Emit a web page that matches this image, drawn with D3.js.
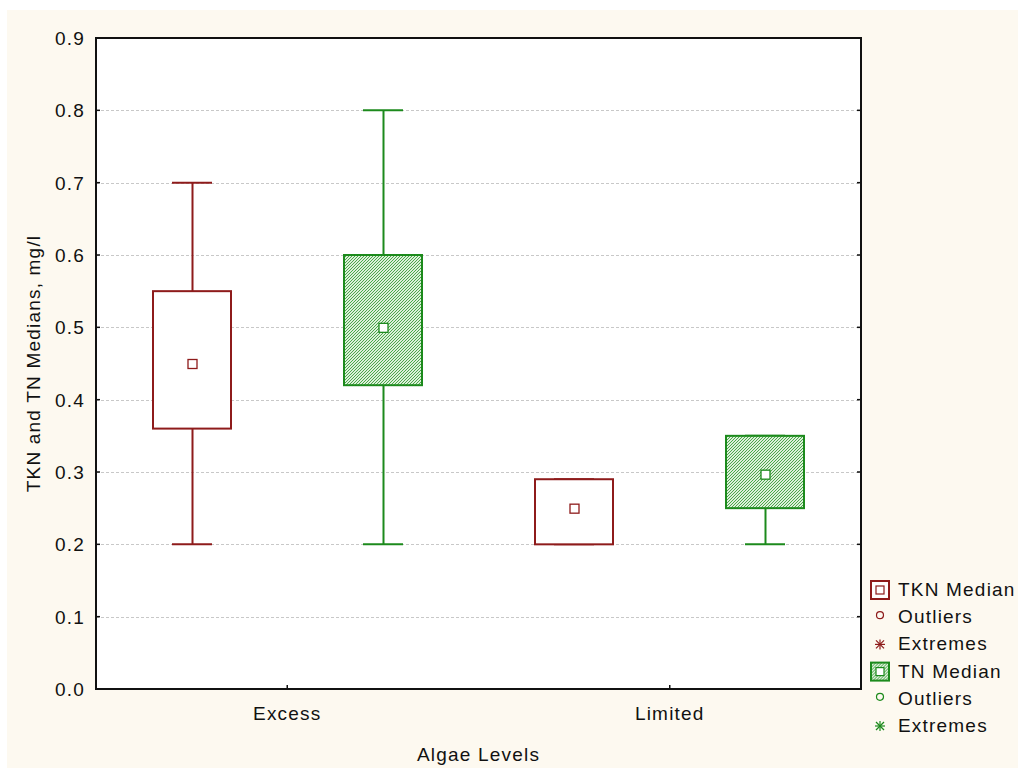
<!DOCTYPE html>
<html>
<head>
<meta charset="utf-8">
<script src="https://cdn.jsdelivr.net/npm/d3@7"></script>
<style>
  body { margin: 0; background: #fff; }
  text { font-family: "Liberation Sans", Arial, sans-serif; fill: #111; letter-spacing: 1.2px; }
</style>
</head>
<body>
<div id="chart"></div>
<script>
// categories and box stats
var groups = ["Excess", "Limited"];
var seriesNames = ["TKN", "TN"];
var tknMin = [0.2, 0.2], tknQ1 = [0.36, 0.2], tknMed = [0.45, 0.25], tknQ3 = [0.55, 0.29], tknMax = [0.7, 0.29];
var tnMin = [0.2, 0.2], tnQ1 = [0.42, 0.25], tnMed = [0.5, 0.297], tnQ3 = [0.6, 0.35], tnMax = [0.8, 0.35];
var yTicks = [0, 0.1, 0.2, 0.3, 0.4, 0.5, 0.6, 0.7, 0.8, 0.9];
var legendLabels = ["TKN Median", "Outliers", "Extremes", "TN Median", "Outliers", "Extremes"];

var W = 1018, H = 768;
var margin = {top: 38, right: 157, bottom: 79, left: 96};
var colors = {TKN: "#8e1b1b", TN: "#1c8a1c"};
var fs = 19;

var svg = d3.select("#chart").append("svg")
  .attr("width", W).attr("height", H);

// hatch pattern for TN boxes
var defs = svg.append("defs");
var pat = defs.append("pattern")
  .attr("id", "hatch")
  .attr("patternUnits", "userSpaceOnUse")
  .attr("width", 3).attr("height", 3);
pat.append("rect").attr("width", 3).attr("height", 3).attr("fill", "#dcefd9");
pat.append("path")
  .attr("d", "M-1,1 l2,-2 M0,3 l3,-3 M2,4 l2,-2")
  .attr("stroke", "#3a9e3a").attr("stroke-width", 0.9);

svg.append("rect").attr("x", 7).attr("y", 10)
  .attr("width", W - 7).attr("height", H - 10).attr("fill", "#fdf9f0");

var x0 = margin.left, x1 = W - margin.right;
var yTop = margin.top, yBot = H - margin.bottom;

var x = d3.scaleBand().domain(groups).range([x0, x1]);
var xs = d3.scaleBand().domain(seriesNames).range([0, x.bandwidth()]);
var y = d3.scaleLinear().domain([0, 0.9]).range([yBot, yTop]);

svg.append("rect").attr("x", x0).attr("y", yTop)
  .attr("width", x1 - x0).attr("height", yBot - yTop).attr("fill", "#fff");

// grid
svg.append("g").selectAll("line").data(yTicks.slice(1, -1)).join("line")
  .attr("x1", x0).attr("x2", x1)
  .attr("y1", function (d) { return Math.round(y(d)) + 0.5; })
  .attr("y2", function (d) { return Math.round(y(d)) + 0.5; })
  .attr("stroke", "#c8c8c8").attr("stroke-dasharray", "3,2");

var boxW = 78, capW = 40;
var stats = {
  TKN: {min: tknMin, q1: tknQ1, med: tknMed, q3: tknQ3, max: tknMax},
  TN: {min: tnMin, q1: tnQ1, med: tnMed, q3: tnQ3, max: tnMax}
};

var boxes = [];
groups.forEach(function (g, gi) {
  seriesNames.forEach(function (s) {
    var st = stats[s];
    boxes.push({g: g, s: s, min: st.min[gi], q1: st.q1[gi], med: st.med[gi], q3: st.q3[gi], max: st.max[gi]});
  });
});

var bx = svg.append("g").selectAll("g").data(boxes).join("g")
  .attr("transform", function (d) {
    return "translate(" + Math.round(x(d.g) + xs(d.s) + xs.bandwidth() / 2) + ",0)";
  });

bx.append("line").attr("x1", 0.5).attr("x2", 0.5)
  .attr("y1", function (d) { return y(d.max); })
  .attr("y2", function (d) { return y(d.min); })
  .attr("stroke", function (d) { return colors[d.s]; }).attr("stroke-width", 2);
bx.append("line").attr("x1", -capW / 2).attr("x2", capW / 2)
  .attr("y1", function (d) { return y(d.max); }).attr("y2", function (d) { return y(d.max); })
  .attr("stroke", function (d) { return colors[d.s]; }).attr("stroke-width", 2);
bx.append("line").attr("x1", -capW / 2).attr("x2", capW / 2)
  .attr("y1", function (d) { return y(d.min); }).attr("y2", function (d) { return y(d.min); })
  .attr("stroke", function (d) { return colors[d.s]; }).attr("stroke-width", 2);
bx.append("rect")
  .attr("x", -boxW / 2)
  .attr("y", function (d) { return y(d.q3); })
  .attr("width", boxW)
  .attr("height", function (d) { return y(d.q1) - y(d.q3); })
  .attr("fill", function (d) { return d.s === "TN" ? "url(#hatch)" : "#fff"; })
  .attr("stroke", function (d) { return colors[d.s]; }).attr("stroke-width", 2);
bx.append("rect")
  .attr("x", -4).attr("y", function (d) { return y(d.med) - 4; })
  .attr("width", 9).attr("height", 9)
  .attr("fill", "#fff")
  .attr("stroke", function (d) { return colors[d.s]; }).attr("stroke-width", 1.3);

// frame
svg.append("rect").attr("x", x0).attr("y", yTop)
  .attr("width", x1 - x0).attr("height", yBot - yTop)
  .attr("fill", "none").attr("stroke", "#111").attr("stroke-width", 2);

// y axis ticks (inward) and labels
var yAxis = svg.append("g");
yAxis.selectAll("text").data(yTicks).join("text")
  .attr("x", x0 - 11).attr("y", function (d) { return y(d) + 7; })
  .attr("text-anchor", "end").attr("font-size", fs)
  .text(function (d) { return d3.format(".1f")(d); });
yAxis.selectAll("line.l").data(yTicks).join("line").attr("class", "l")
  .attr("x1", x0).attr("x2", x0 + 4)
  .attr("y1", function (d) { return y(d); }).attr("y2", function (d) { return y(d); })
  .attr("stroke", "#111").attr("stroke-width", 1.5);
yAxis.selectAll("line.r").data(yTicks).join("line").attr("class", "r")
  .attr("x1", x1 - 4).attr("x2", x1)
  .attr("y1", function (d) { return y(d); }).attr("y2", function (d) { return y(d); })
  .attr("stroke", "#111").attr("stroke-width", 1.5);

// x axis
var xAxis = svg.append("g");
xAxis.selectAll("line").data(groups).join("line")
  .attr("x1", function (d) { return x(d) + x.bandwidth() / 2; })
  .attr("x2", function (d) { return x(d) + x.bandwidth() / 2; })
  .attr("y1", yBot).attr("y2", yBot - 4)
  .attr("stroke", "#111").attr("stroke-width", 1.5);
xAxis.selectAll("text").data(groups).join("text")
  .attr("x", function (d) { return x(d) + x.bandwidth() / 2; })
  .attr("y", yBot + 31)
  .attr("text-anchor", "middle").attr("font-size", fs)
  .text(function (d) { return d; });

svg.append("text").attr("x", (x0 + x1) / 2).attr("y", 761)
  .attr("text-anchor", "middle").attr("font-size", fs).text("Algae Levels");
svg.append("text")
  .attr("transform", "translate(40," + (yTop + yBot) / 2 + ") rotate(-90)")
  .attr("text-anchor", "middle").attr("font-size", fs)
  .text("TKN and TN Medians, mg/l");

// legend
var lg = svg.append("g").attr("transform", "translate(870,590)");
var rowH = 27.2;
legendLabels.forEach(function (t, i) {
  var c = i < 3 ? colors.TKN : colors.TN;
  var row = lg.append("g").attr("transform", "translate(0," + (i * rowH) + ")");
  var k = i % 3;
  if (k === 0) {
    row.append("rect").attr("x", 1).attr("y", -9).attr("width", 18).attr("height", 18)
      .attr("fill", i < 3 ? "#fff" : "url(#hatch)").attr("stroke", c).attr("stroke-width", 2);
    row.append("rect").attr("x", 6).attr("y", -4).attr("width", 8).attr("height", 8)
      .attr("fill", "#fff").attr("stroke", c).attr("stroke-width", 1.2);
  } else if (k === 1) {
    row.append("circle").attr("cx", 10).attr("cy", -2).attr("r", 3.5)
      .attr("fill", "none").attr("stroke", c).attr("stroke-width", 1.2);
  } else {
    var star = row.append("g").attr("transform", "translate(10,0)")
      .attr("stroke", c).attr("stroke-width", 1.2);
    star.append("line").attr("x1", -5).attr("x2", 5).attr("y1", 0).attr("y2", 0);
    star.append("line").attr("x1", 0).attr("x2", 0).attr("y1", -5).attr("y2", 5);
    star.append("line").attr("x1", -4).attr("x2", 4).attr("y1", -4).attr("y2", 4);
    star.append("line").attr("x1", -4).attr("x2", 4).attr("y1", 4).attr("y2", -4);
  }
  row.append("text").attr("x", 28).attr("y", 6).attr("font-size", fs).text(t);
});
</script>
</body>
</html>
